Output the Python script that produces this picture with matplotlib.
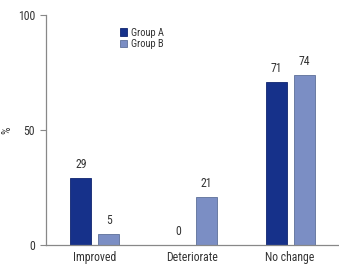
import matplotlib
matplotlib.use("Agg")
import matplotlib.pyplot as plt
import numpy as np

plt.rcParams['font.family'] = ['Roboto Condensed', 'DejaVu Sans']

categories = ["Improved", "Deteriorate", "No change"]
group_a = [29, 0, 71]
group_b = [5, 21, 74]
series_names = ["Group A", "Group B"]

col_a = "#16318a"
col_b = "#7b8ec4"
txt = "#333333"
spine = "#888888"

fig = plt.figure(figsize=(3.39, 2.65), dpi=100)
ax = fig.add_axes([46/339, 20/265, 1 - 46/339, 230/265])

x = np.arange(len(categories))
w = 0.215
off = 0.144
ax.bar(x - off, group_a, w, color=col_a, edgecolor="#0f2570", linewidth=0.6, label=series_names[0])
ax.bar(x + off, group_b, w, color=col_b, edgecolor="#5d6f99", linewidth=0.6, label=series_names[1])

for xi, v in zip(x - off, group_a):
    ax.text(xi, v + 3, str(v), ha="center", va="bottom", fontsize=8.5, color=txt)
for xi, v in zip(x + off, group_b):
    ax.text(xi, v + 3, str(v), ha="center", va="bottom", fontsize=8.5, color=txt)

ax.set_xlim(-0.5, 2.5)
ax.set_ylim(0, 100)
ax.set_yticks([0, 50, 100])
ax.set_xticks(x)
ax.set_xticklabels(categories)
ax.tick_params(axis="y", direction="out", length=4, color=spine, labelsize=8.5, labelcolor=txt, width=0.8, pad=4)
ax.tick_params(axis="x", length=0, labelsize=8.5, labelcolor=txt, pad=4)
for s in ["top", "right"]:
    ax.spines[s].set_visible(False)
for s in ["left", "bottom"]:
    ax.spines[s].set_color(spine)
    ax.spines[s].set_linewidth(0.9)
ax.set_ylabel("%", fontsize=8.5, color=txt)
ax.yaxis.set_label_coords(-0.11, 0.5)

leg = ax.legend(loc="upper left", bbox_to_anchor=(0.252, 0.945), frameon=False, fontsize=7.5,
                handlelength=0.7, handleheight=0.7, handletextpad=0.4, labelspacing=0.15,
                borderaxespad=0, borderpad=0)
for t in leg.get_texts():
    t.set_color(txt)

fig.savefig("out.png", dpi=100)
